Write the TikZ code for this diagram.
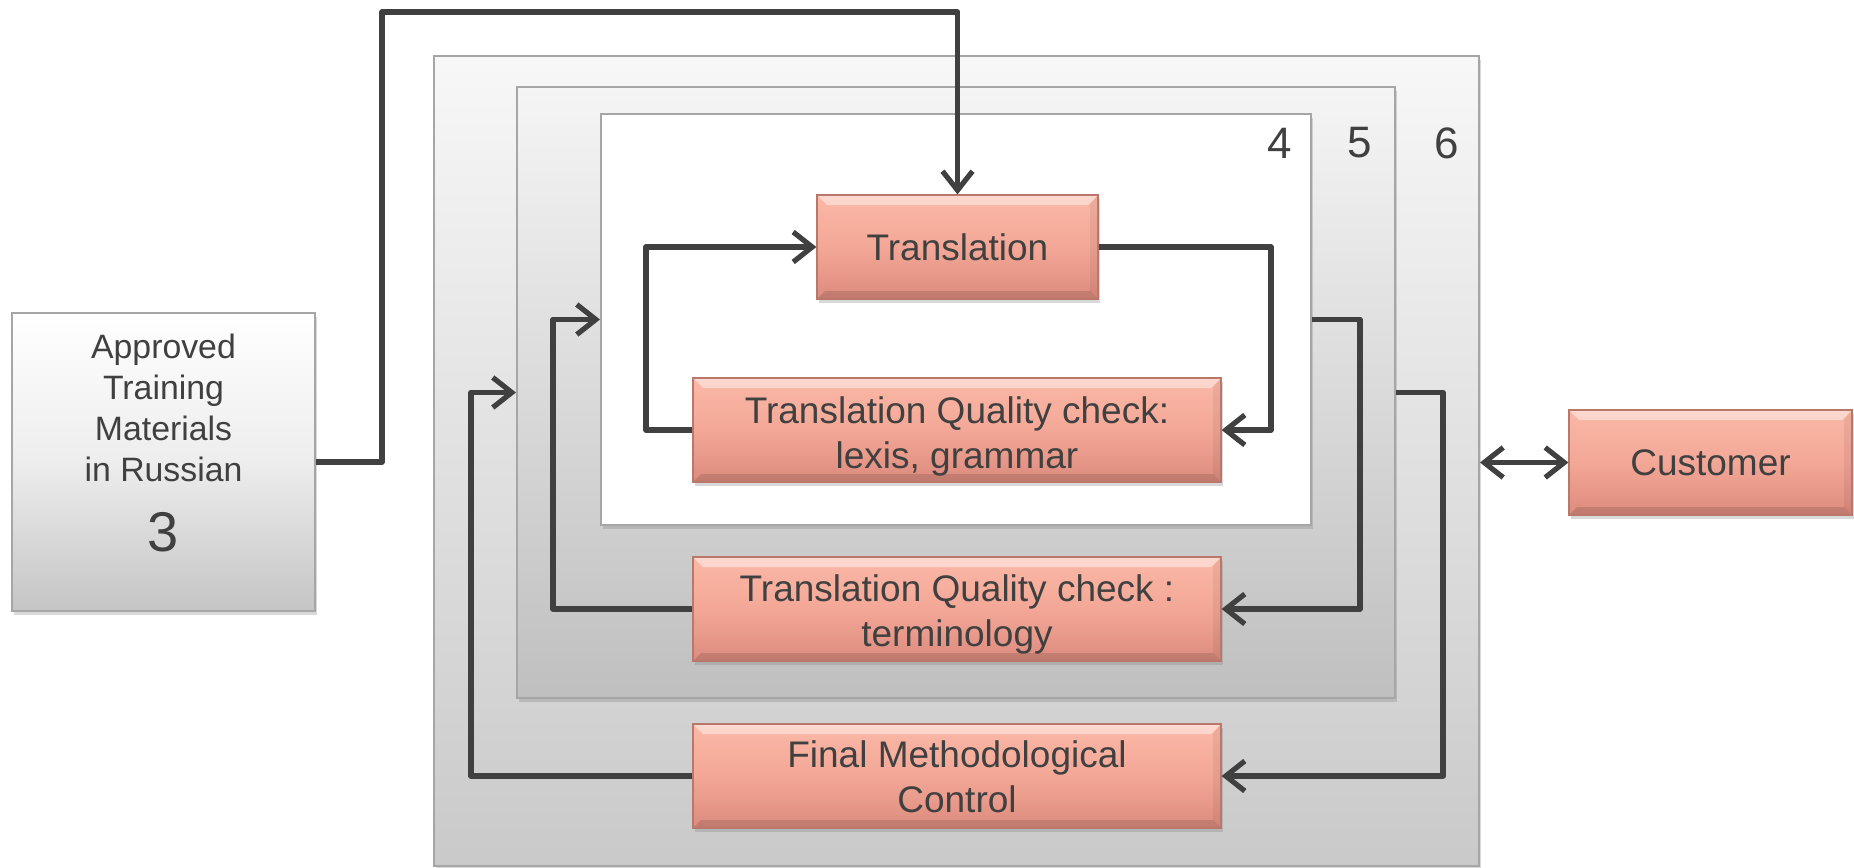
\documentclass[tikz,border=0pt]{standalone}
\usepackage{fontspec}
\setmainfont{Liberation Sans}
\usetikzlibrary{arrows.meta,shadows,calc}

\definecolor{ink}{HTML}{404040}
\definecolor{pinkTop}{HTML}{FBB8A6}
\definecolor{pinkMid}{HTML}{F3A797}
\definecolor{pinkBot}{HTML}{DC8B7D}
\definecolor{pinkEdge}{HTML}{B9786B}
\definecolor{grayEdge}{HTML}{A6A6A6}

% lower a (possibly multi-line) label without changing its reported size
\newcommand\lowered[2]{\raisebox{-#1}[\height][\depth]{\begin{tabular}{@{}c@{}}#2\end{tabular}}}

\tikzset{
  bevel/.style={path picture={
    \fill[white,opacity=0.45]
      (path picture bounding box.north west) -- (path picture bounding box.north east)
      -- ([xshift=-5pt,yshift=-5pt]path picture bounding box.north east)
      -- ([xshift=5pt,yshift=-5pt]path picture bounding box.north west) -- cycle;
    \fill[black,opacity=0.12]
      (path picture bounding box.south west) -- (path picture bounding box.south east)
      -- ([xshift=-4pt,yshift=4pt]path picture bounding box.south east)
      -- ([xshift=4pt,yshift=4pt]path picture bounding box.south west) -- cycle;
    \fill[black,opacity=0.06]
      (path picture bounding box.south east) -- (path picture bounding box.north east)
      -- ([xshift=-4pt,yshift=-5pt]path picture bounding box.north east)
      -- ([xshift=-4pt,yshift=4pt]path picture bounding box.south east) -- cycle;
  }},
  stage/.style={draw=pinkEdge, line width=0.6pt, top color=pinkTop, bottom color=pinkBot,
    middle color=pinkMid, bevel, drop shadow={shadow xshift=1pt,shadow yshift=-2pt,opacity=0.3},
    inner sep=0pt, align=center, text=ink,
    font=\fontsize{18.5pt}{22.5pt}\selectfont},
  frame/.style={draw=grayEdge, line width=1pt, inner sep=0pt,
    drop shadow={shadow xshift=1pt,shadow yshift=-2pt,opacity=0.3}},
  tag/.style={text=ink, font=\fontsize{22pt}{26pt}\selectfont, inner sep=0pt},
  conn/.style={draw=ink, line width=2.8pt, line join=round,
    -{Straight Barb[length=9.5pt,width=15pt,line width=2.6pt]}},
  twoway/.style={conn, {Straight Barb[length=9.5pt,width=15pt,line width=2.6pt]}-{Straight Barb[length=9.5pt,width=15pt,line width=2.6pt]}},
}

\begin{document}
\begin{tikzpicture}[x=0.5pt,y=-0.5pt]
\useasboundingbox (0,0) rectangle (1854,868);

% nested quality levels
\node[frame, top color=white!97!black, bottom color=white!79!black,
      minimum width=522.5pt, minimum height=405pt] (lvl6) at (956.5,461) {};
\node[frame, top color=white!96!black, bottom color=white!75!black,
      minimum width=439pt, minimum height=305.5pt] (lvl5) at (956,392.5) {};
\node[frame, fill=white, minimum width=355pt, minimum height=205.5pt] (lvl4) at (956,319.5) {};

\node[tag] (n4) at (1280,143) {4};
\node[tag] (n5) at (1360,143) {5};
\node[tag] (n6) at (1447,143) {6};

% source materials
\node[frame, top color=white, bottom color=white!77!black, middle color=white!93!black,
      minimum width=151.5pt, minimum height=149pt] (src) at (163.5,462) {};
\node[text=ink, align=center, font=\fontsize{16.9pt}{20.5pt}\selectfont] (srctxt) at (163.5,407.5)
  {Approved\\Training\\Materials\\in Russian};
\node[text=ink, font=\fontsize{28pt}{32pt}\selectfont] (srcnum) at (163.5,532) {3};

% process stages
\node[stage, minimum width=140.5pt, minimum height=52pt] (trans) at (957.5,247) {Translation};
\node[stage, minimum width=264pt, minimum height=52pt] (lexis) at (957,430)
  {\lowered{3.5pt}{Translation Quality check:\\lexis, grammar}};
\node[stage, minimum width=264pt, minimum height=52pt] (term) at (957,609)
  {\lowered{3pt}{Translation Quality check :\\terminology}};
\node[stage, minimum width=264pt, minimum height=52pt] (final) at (957,776)
  {\lowered{2.6pt}{Final Methodological\\Control}};
\node[stage, minimum width=141.5pt, minimum height=52.5pt] (cust) at (1710.5,462.5) {Customer};

% bend points of the connectors
\coordinate (jA) at (382,12);
\coordinate (jB) at (1271,430);
\coordinate (jC) at (646,247);
\coordinate (jD) at (1360,609);
\coordinate (jE) at (553,319.5);
\coordinate (jF) at (1443,776);
\coordinate (jG) at (471,392.5);

% connectors
\draw[conn] (src.east) -| (jA) -| (trans.north);
\draw[conn] (trans.east) -| (jB) -- (lexis.east);
\draw[conn] (lexis.west) -| (jC) -- (trans.west);
\draw[conn] (lvl4.east) -| (jD) -- (term.east);
\draw[conn] (term.west) -| (jE) -- (lvl4.west);
\draw[conn] (lvl5.east) -| (jF) -- (final.east);
\draw[conn] (final.west) -| (jG) -- (lvl5.west);
\draw[twoway] (cust.west -| lvl6.east) -- (cust.west);
\end{tikzpicture}
\end{document}
